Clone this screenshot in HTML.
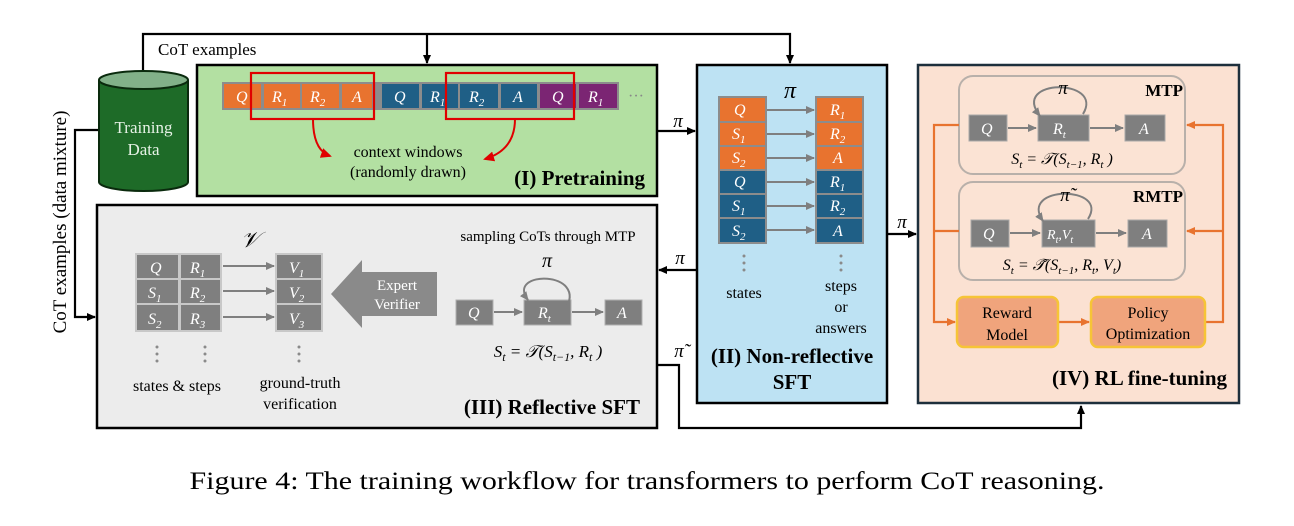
<!DOCTYPE html>
<html><head><meta charset="utf-8"><style>
html,body{margin:0;padding:0;background:#fff;}
svg{display:block;}
text{font-family:"Liberation Serif",serif;}
.m{font-style:italic;fill:#fff;}
.b{font-weight:bold;}
</style></head><body>
<svg width="1294" height="526" viewBox="0 0 1294 526" xmlns="http://www.w3.org/2000/svg">
<defs>
<marker id="ak" markerWidth="10" markerHeight="10" refX="8" refY="5" orient="auto" markerUnits="userSpaceOnUse"><path d="M0,1 L9,5 L0,9 z" fill="#000"/></marker>
<marker id="ag" markerWidth="10" markerHeight="10" refX="8" refY="5" orient="auto" markerUnits="userSpaceOnUse"><path d="M0,1 L9,5 L0,9 z" fill="#7f7f7f"/></marker>
<marker id="ao" markerWidth="10" markerHeight="10" refX="8" refY="5" orient="auto" markerUnits="userSpaceOnUse"><path d="M0,1 L9,5 L0,9 z" fill="#e8732f"/></marker>
<marker id="ar" markerWidth="12" markerHeight="12" refX="9" refY="6" orient="auto" markerUnits="userSpaceOnUse"><path d="M0,1 L11,6 L0,11 z" fill="#e00000"/></marker>
</defs>

<!-- top connector -->
<polyline points="143,72 143,34 790,34 790,63" fill="none" stroke="#000" stroke-width="2.2" marker-end="url(#ak)"/>
<line x1="427" y1="34" x2="427" y2="63" stroke="#000" stroke-width="2.2" marker-end="url(#ak)"/>
<text x="158" y="55" font-size="17">CoT examples</text>

<!-- left connector -->
<polyline points="99,130 75,130 75,317 95,317" fill="none" stroke="#000" stroke-width="2.2" marker-end="url(#ak)"/>
<text transform="translate(66,222) rotate(-90)" font-size="19" text-anchor="middle">CoT examples (data mixture)</text>

<!-- Green pretraining box -->
<rect x="197" y="65" width="460" height="131" fill="#b3e0a2" stroke="#000" stroke-width="2.5"/>
<!-- Cylinder -->
<path d="M99,80 L99,182 A44.5,9 0 0 0 188,182 L188,80" fill="#1e6b28" stroke="#0a2a0d" stroke-width="2"/>
<ellipse cx="143.5" cy="80" rx="44.5" ry="9" fill="#82b189" stroke="#0a2a0d" stroke-width="2"/>
<text x="143.5" y="133" font-size="17" fill="#e6f2e6" text-anchor="middle">Training</text>
<text x="143.5" y="155" font-size="17" fill="#e6f2e6" text-anchor="middle">Data</text>

<rect x="222" y="82" width="397" height="28" fill="#8c8c8c"/>
<g>
<rect x="224" y="84" width="37" height="24" fill="#e8732f"/>
<rect x="264" y="84" width="36" height="24" fill="#e8732f"/>
<rect x="302" y="84" width="37" height="24" fill="#e8732f"/>
<rect x="342" y="84" width="30" height="24" fill="#e8732f"/>
<rect x="382" y="84" width="37" height="24" fill="#1f5f86"/>
<rect x="422" y="84" width="36" height="24" fill="#1f5f86"/>
<rect x="460" y="84" width="38" height="24" fill="#1f5f86"/>
<rect x="501" y="84" width="36" height="24" fill="#1f5f86"/>
<rect x="540" y="84" width="36" height="24" fill="#7b2573"/>
<rect x="579" y="84" width="38" height="24" fill="#7b2573"/>
</g>
<g font-size="16" class="m">
<text x="236" y="102" class="m">Q</text>
<text x="272" y="102" class="m">R<tspan font-size="11" dy="4">1</tspan></text>
<text x="310" y="102" class="m">R<tspan font-size="11" dy="4">2</tspan></text>
<text x="352" y="102" class="m">A</text>
<text x="394" y="102" class="m">Q</text>
<text x="430" y="102" class="m">R<tspan font-size="11" dy="4">1</tspan></text>
<text x="469" y="102" class="m">R<tspan font-size="11" dy="4">2</tspan></text>
<text x="513" y="102" class="m">A</text>
<text x="552" y="102" class="m">Q</text>
<text x="588" y="102" class="m">R<tspan font-size="11" dy="4">1</tspan></text>
</g>
<text x="628" y="101" font-size="16" fill="#888">···</text>
<rect x="251" y="73" width="123" height="46" fill="none" stroke="#e00000" stroke-width="2.2"/>
<rect x="446" y="73" width="128" height="46" fill="none" stroke="#e00000" stroke-width="2.2"/>
<path d="M313,119 Q313,150 330,156" fill="none" stroke="#e00000" stroke-width="2" marker-end="url(#ar)"/>
<path d="M515,119 Q515,150 485,159" fill="none" stroke="#e00000" stroke-width="2" marker-end="url(#ar)"/>
<text x="408" y="157" font-size="16" text-anchor="middle">context windows</text>
<text x="408" y="177" font-size="16" text-anchor="middle">(randomly drawn)</text>
<text x="645" y="185" font-size="21" class="b" text-anchor="end">(I) Pretraining</text>

<!-- Grey reflective SFT box -->
<rect x="97" y="205" width="560" height="223" fill="#ececec" stroke="#000" stroke-width="2.5"/>
<rect x="135" y="253" width="87" height="79" fill="#c8c8c8"/>
<g fill="#7f7f7f">
<rect x="137" y="255" width="41" height="23"/><rect x="181" y="255" width="39" height="23"/>
<rect x="137" y="280" width="41" height="23"/><rect x="181" y="280" width="39" height="23"/>
<rect x="137" y="305" width="41" height="25"/><rect x="181" y="305" width="39" height="25"/>
</g>
<rect x="275" y="253" width="48" height="79" fill="#c8c8c8"/>
<g fill="#7f7f7f">
<rect x="277" y="255" width="44" height="23"/><rect x="277" y="280" width="44" height="23"/><rect x="277" y="305" width="44" height="25"/>
</g>
<g font-size="16">
<text x="150" y="273" class="m">Q</text><text x="190" y="273" class="m">R<tspan font-size="11" dy="4">1</tspan></text>
<text x="148" y="298" class="m">S<tspan font-size="11" dy="4">1</tspan></text><text x="190" y="298" class="m">R<tspan font-size="11" dy="4">2</tspan></text>
<text x="148" y="324" class="m">S<tspan font-size="11" dy="4">2</tspan></text><text x="190" y="324" class="m">R<tspan font-size="11" dy="4">3</tspan></text>
<text x="289" y="273" class="m">V<tspan font-size="11" dy="4">1</tspan></text>
<text x="289" y="298" class="m">V<tspan font-size="11" dy="4">2</tspan></text>
<text x="289" y="324" class="m">V<tspan font-size="11" dy="4">3</tspan></text>
</g>
<g stroke="#7f7f7f" stroke-width="2">
<line x1="223" y1="266" x2="274" y2="266" marker-end="url(#ag)"/>
<line x1="223" y1="291" x2="274" y2="291" marker-end="url(#ag)"/>
<line x1="223" y1="317" x2="274" y2="317" marker-end="url(#ag)"/>
</g>
<text x="250" y="247" font-size="22" font-style="italic" text-anchor="middle">𝒱</text>
<g fill="#8a8a8a"><circle cx="157" cy="347" r="1.5"/><circle cx="157" cy="354" r="1.5"/><circle cx="157" cy="361" r="1.5"/>
<circle cx="205" cy="347" r="1.5"/><circle cx="205" cy="354" r="1.5"/><circle cx="205" cy="361" r="1.5"/>
<circle cx="299" cy="347" r="1.5"/><circle cx="299" cy="354" r="1.5"/><circle cx="299" cy="361" r="1.5"/></g>
<text x="177" y="391" font-size="16" text-anchor="middle">states &amp; steps</text>
<text x="300" y="388" font-size="16" text-anchor="middle">ground-truth</text>
<text x="300" y="409" font-size="16" text-anchor="middle">verification</text>
<path d="M331,294 L362,260 L362,272 L437,272 L437,316 L362,316 L362,328 z" fill="#8a8a8a"/>
<text x="397" y="290" font-size="15" fill="#fff" text-anchor="middle">Expert</text>
<text x="397" y="309" font-size="15" fill="#fff" text-anchor="middle">Verifier</text>
<text x="548" y="241" font-size="15" text-anchor="middle">sampling CoTs through MTP</text>
<text x="547" y="267" font-size="20" font-style="italic" text-anchor="middle">π</text>
<rect x="456" y="300" width="37" height="25" fill="#7f7f7f" stroke="#b0b0b0"/>
<rect x="524" y="300" width="47" height="25" fill="#7f7f7f" stroke="#b0b0b0"/>
<rect x="605" y="300" width="37" height="25" fill="#7f7f7f" stroke="#b0b0b0"/>
<text x="468" y="318" font-size="16" class="m">Q</text>
<text x="538" y="318" font-size="16" class="m">R<tspan font-size="11" dy="4">t</tspan></text>
<text x="617" y="318" font-size="16" class="m">A</text>
<g stroke="#7f7f7f" stroke-width="2" fill="none">
<line x1="494" y1="312" x2="522" y2="312" marker-end="url(#ag)"/>
<line x1="572" y1="312" x2="603" y2="312" marker-end="url(#ag)"/>
<path d="M565,310 C590,270 505,270 528,300" marker-end="url(#ag)"/>
</g>
<text x="548" y="357" font-size="17" text-anchor="middle" font-style="italic">S<tspan font-size="12" dy="4">t</tspan><tspan dy="-4"> = 𝒯(S</tspan><tspan font-size="12" dy="4">t−1</tspan><tspan dy="-4">, R</tspan><tspan font-size="12" dy="4">t</tspan><tspan dy="-4"> )</tspan></text>
<text x="640" y="414" font-size="21" class="b" text-anchor="end">(III) Reflective SFT</text>

<!-- Blue box -->
<rect x="697" y="65" width="190" height="338" fill="#bde2f3" stroke="#000" stroke-width="2.5"/>
<rect x="718" y="96" width="49" height="148" fill="#8c8c8c"/>
<rect x="815" y="96" width="49" height="148" fill="#8c8c8c"/>
<g>
<rect x="720" y="98" width="45" height="23" fill="#e8732f"/><rect x="817" y="98" width="45" height="23" fill="#e8732f"/>
<rect x="720" y="123" width="45" height="22" fill="#e8732f"/><rect x="817" y="123" width="45" height="22" fill="#e8732f"/>
<rect x="720" y="147" width="45" height="22" fill="#e8732f"/><rect x="817" y="147" width="45" height="22" fill="#e8732f"/>
<rect x="720" y="171" width="45" height="22" fill="#1f5f86"/><rect x="817" y="171" width="45" height="22" fill="#1f5f86"/>
<rect x="720" y="195" width="45" height="22" fill="#1f5f86"/><rect x="817" y="195" width="45" height="22" fill="#1f5f86"/>
<rect x="720" y="219" width="45" height="23" fill="#1f5f86"/><rect x="817" y="219" width="45" height="23" fill="#1f5f86"/>
</g>
<g font-size="16">
<text x="734" y="115" class="m">Q</text><text x="830" y="115" class="m">R<tspan font-size="11" dy="4">1</tspan></text>
<text x="732" y="139" class="m">S<tspan font-size="11" dy="4">1</tspan></text><text x="830" y="139" class="m">R<tspan font-size="11" dy="4">2</tspan></text>
<text x="732" y="163" class="m">S<tspan font-size="11" dy="4">2</tspan></text><text x="833" y="163" class="m">A</text>
<text x="734" y="187" class="m">Q</text><text x="830" y="187" class="m">R<tspan font-size="11" dy="4">1</tspan></text>
<text x="732" y="211" class="m">S<tspan font-size="11" dy="4">1</tspan></text><text x="830" y="211" class="m">R<tspan font-size="11" dy="4">2</tspan></text>
<text x="732" y="236" class="m">S<tspan font-size="11" dy="4">2</tspan></text><text x="833" y="236" class="m">A</text>
</g>
<g stroke="#7f7f7f" stroke-width="2">
<line x1="767" y1="110" x2="814" y2="110" marker-end="url(#ag)"/>
<line x1="767" y1="134" x2="814" y2="134" marker-end="url(#ag)"/>
<line x1="767" y1="158" x2="814" y2="158" marker-end="url(#ag)"/>
<line x1="767" y1="182" x2="814" y2="182" marker-end="url(#ag)"/>
<line x1="767" y1="206" x2="814" y2="206" marker-end="url(#ag)"/>
<line x1="767" y1="230" x2="814" y2="230" marker-end="url(#ag)"/>
</g>
<text x="790" y="98" font-size="24" font-style="italic" text-anchor="middle">π</text>
<g fill="#8a8a8a"><circle cx="744" cy="256" r="1.5"/><circle cx="744" cy="263" r="1.5"/><circle cx="744" cy="270" r="1.5"/>
<circle cx="841" cy="256" r="1.5"/><circle cx="841" cy="263" r="1.5"/><circle cx="841" cy="270" r="1.5"/></g>
<text x="744" y="298" font-size="16" text-anchor="middle">states</text>
<text x="841" y="291" font-size="16" text-anchor="middle">steps</text>
<text x="841" y="312" font-size="16" text-anchor="middle">or</text>
<text x="841" y="333" font-size="16" text-anchor="middle">answers</text>
<text x="792" y="363" font-size="21" class="b" text-anchor="middle">(II) Non-reflective</text>
<text x="792" y="389" font-size="21" class="b" text-anchor="middle">SFT</text>

<!-- connectors between boxes -->
<line x1="658" y1="131" x2="695" y2="131" stroke="#000" stroke-width="2.2" marker-end="url(#ak)"/>
<text x="678" y="127" font-size="19" font-style="italic" text-anchor="middle">π</text>
<line x1="697" y1="270" x2="659" y2="270" stroke="#000" stroke-width="2.2" marker-end="url(#ak)"/>
<text x="680" y="264" font-size="19" font-style="italic" text-anchor="middle">π</text>
<line x1="888" y1="234" x2="916" y2="234" stroke="#000" stroke-width="2.2" marker-end="url(#ak)"/>
<text x="902" y="228" font-size="19" font-style="italic" text-anchor="middle">π</text>
<polyline points="658,365 679,365 679,428 1081,428 1081,406" fill="none" stroke="#000" stroke-width="2.2" marker-end="url(#ak)"/>
<text x="679" y="357" font-size="19" font-style="italic" text-anchor="middle">π̃</text>

<!-- RL box -->
<rect x="918" y="65" width="321" height="338" fill="#fbe1d2" stroke="#1d2f3c" stroke-width="2.5"/>
<rect x="959" y="76" width="226" height="98" rx="14" fill="#fbe3d4" stroke="#b8b0aa" stroke-width="2"/>
<rect x="959" y="182" width="226" height="98" rx="14" fill="#fbe3d4" stroke="#b8b0aa" stroke-width="2"/>
<g fill="#7f7f7f" stroke="#a8a8a8">
<rect x="969" y="115" width="38" height="26"/><rect x="1038" y="115" width="51" height="26"/><rect x="1125" y="115" width="40" height="26"/>
<rect x="971" y="220" width="38" height="27"/><rect x="1042" y="220" width="53" height="27"/><rect x="1128" y="220" width="39" height="27"/>
</g>
<g font-size="16">
<text x="981" y="134" class="m">Q</text><text x="1053" y="134" class="m">R<tspan font-size="11" dy="4">t</tspan></text><text x="1139" y="134" class="m">A</text>
<text x="983" y="239" class="m">Q</text><text x="1047" y="239" class="m" font-size="14">R<tspan font-size="10" dy="4">t</tspan><tspan dy="-4">,V</tspan><tspan font-size="10" dy="4">t</tspan></text><text x="1142" y="239" class="m">A</text>
</g>
<g stroke="#7f7f7f" stroke-width="2" fill="none">
<line x1="1008" y1="128" x2="1036" y2="128" marker-end="url(#ag)"/>
<line x1="1090" y1="128" x2="1123" y2="128" marker-end="url(#ag)"/>
<path d="M1083,114 C1105,78 1010,78 1040,116" marker-end="url(#ag)"/>
<line x1="1010" y1="233" x2="1040" y2="233" marker-end="url(#ag)"/>
<line x1="1096" y1="233" x2="1126" y2="233" marker-end="url(#ag)"/>
<path d="M1088,219 C1110,185 1018,185 1043,221" marker-end="url(#ag)"/>
</g>
<text x="1063" y="94" font-size="19" font-style="italic" text-anchor="middle">π</text>
<text x="1065" y="201" font-size="19" font-style="italic" text-anchor="middle">π̃</text>
<text x="1183" y="96" font-size="17" class="b" text-anchor="end">MTP</text>
<text x="1183" y="202" font-size="17" class="b" text-anchor="end">RMTP</text>
<text x="1062" y="164" font-size="16" text-anchor="middle" font-style="italic">S<tspan font-size="11" dy="4">t</tspan><tspan dy="-4"> = 𝒯(S</tspan><tspan font-size="11" dy="4">t−1</tspan><tspan dy="-4">, R</tspan><tspan font-size="11" dy="4">t</tspan><tspan dy="-4"> )</tspan></text>
<text x="1062" y="270" font-size="16" text-anchor="middle" font-style="italic">S<tspan font-size="11" dy="4">t</tspan><tspan dy="-4"> = 𝒯̃(S</tspan><tspan font-size="11" dy="4">t−1</tspan><tspan dy="-4">, R</tspan><tspan font-size="11" dy="4">t</tspan><tspan dy="-4">, V</tspan><tspan font-size="11" dy="4">t</tspan><tspan dy="-4">)</tspan></text>
<g stroke="#e8732f" stroke-width="2.2" fill="none">
<polyline points="959,125 934,125 934,322 955,322" marker-end="url(#ao)"/>
<line x1="934" y1="231" x2="959" y2="231"/>
<polyline points="1206,322 1223,322 1223,125 1187,125" marker-end="url(#ao)"/>
<line x1="1223" y1="231" x2="1187" y2="231" marker-end="url(#ao)"/>
<line x1="1059" y1="322" x2="1089" y2="322" marker-end="url(#ao)"/>
</g>
<rect x="957" y="297" width="101" height="50" rx="7" fill="#f0a47c" stroke="#f6c437" stroke-width="2.5"/>
<rect x="1091" y="297" width="114" height="50" rx="7" fill="#f0a47c" stroke="#f6c437" stroke-width="2.5"/>
<text x="1007" y="318" font-size="16" text-anchor="middle">Reward</text>
<text x="1007" y="340" font-size="16" text-anchor="middle">Model</text>
<text x="1148" y="318" font-size="16" text-anchor="middle">Policy</text>
<text x="1148" y="339" font-size="16" text-anchor="middle">Optimization</text>
<text x="1227" y="385" font-size="21" class="b" text-anchor="end">(IV) RL fine-tuning</text>

<!-- caption -->
<text x="647" y="489" font-size="25" text-anchor="middle" textLength="915" lengthAdjust="spacingAndGlyphs">Figure 4: The training workflow for transformers to perform CoT reasoning.</text>
</svg>
</body></html>
